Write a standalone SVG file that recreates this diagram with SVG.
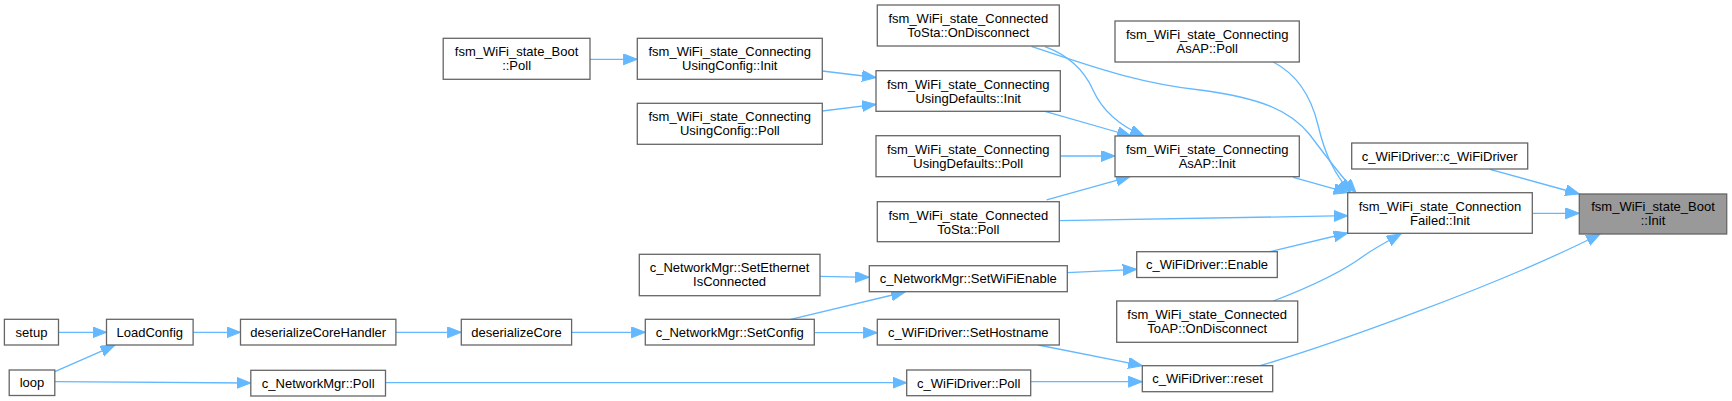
<svg xmlns="http://www.w3.org/2000/svg" width="1732" height="401" viewBox="0 0 1732 401">
<style>
.n rect{fill:#ffffff;stroke:#666666;stroke-width:1.3}
.n.hl rect{fill:#999999}
.n text{font-family:"Liberation Sans",Arial,Helvetica,sans-serif;font-size:13px;fill:#000000;text-anchor:middle}
.e path{fill:none;stroke:#63b8ff;stroke-width:1.3;marker-end:url(#ah)}
</style>
<defs>
<marker id="ah" markerUnits="userSpaceOnUse" markerWidth="15" markerHeight="12" refX="14" refY="5.5" orient="auto">
<path d="M0,0 L14,5.5 L0,11 z" fill="#63b8ff" stroke="#63b8ff" stroke-width="1"/>
</marker>
</defs>
<rect width="1732" height="401" fill="#ffffff"/>
<g id="connectors" class="e">
<path d="M58.5,332.3 L106.5,332.3"/>
<path d="M54.8,371.7 L114.7,345.3"/>
<path d="M193.1,332.3 L240.5,332.3"/>
<path d="M54.8,381.7 L250.8,383"/>
<path d="M395.9,332.3 L461.3,332.3"/>
<path d="M571.6,332.3 L645.3,332.3"/>
<path d="M385.5,382.7 L906.7,382.7"/>
<path d="M790.7,319.3 L905,292"/>
<path d="M814.3,332.7 L877.3,332.7"/>
<path d="M820,276.3 L869.3,277.3"/>
<path d="M590,59.3 L637.3,59.3"/>
<path d="M822.3,71 L876,77.5"/>
<path d="M822.3,111 L876,104.3"/>
<path d="M1060.3,156 L1115,156"/>
<path d="M1045,111.3 L1131,136"/>
<path d="M1045,46.7 C1070,56 1085,72 1093,90 C1102,110 1120,126 1144,136"/>
<path d="M1046.7,199.8 L1130,176.7"/>
<path d="M1031.7,46.7 C1080,62 1130,82 1200,90 C1260,98 1290,110 1310,135 C1325,155 1340,175 1356,192.7"/>
<path d="M1273.3,62 C1300,76 1312,100 1318,125 C1325,155 1335,175 1351,192.7"/>
<path d="M1293.3,177.3 L1347.7,192.7"/>
<path d="M1059.3,220.7 L1347.7,215.7"/>
<path d="M1067.3,272.7 L1136.7,269.3"/>
<path d="M1270,251.7 L1347.7,233"/>
<path d="M1273.3,301 C1310,287 1345,270 1365,255 C1378,246 1390,240 1401,234"/>
<path d="M1038.3,345 L1142.3,365.7"/>
<path d="M1030.7,381.7 L1142.3,381.7"/>
<path d="M1260,365.7 C1330,345 1500,285 1600,234"/>
<path d="M1490,169.3 L1579.3,194"/>
<path d="M1532.3,213.3 L1579.3,213.3"/>
</g>
<g id="n_boot_init" class="n hl"><rect x="1579.3" y="194" width="147.4" height="40"/><text x="1653" y="211">fsm_WiFi_state_Boot</text><text x="1653" y="225">::Init</text></g>
<g id="n_wifidriver_ctor" class="n"><rect x="1351.7" y="143" width="176" height="26"/><text x="1439.7" y="160.5">c_WiFiDriver::c_WiFiDriver</text></g>
<g id="n_connfailed_init" class="n"><rect x="1347.7" y="192.7" width="184.6" height="40.6"/><text x="1440" y="210.5">fsm_WiFi_state_Connection</text><text x="1440" y="224.5">Failed::Init</text></g>
<g id="n_asap_poll" class="n"><rect x="1115" y="21" width="184.3" height="41"/><text x="1207.2" y="39">fsm_WiFi_state_Connecting</text><text x="1207.2" y="53">AsAP::Poll</text></g>
<g id="n_sta_ondisc" class="n"><rect x="877.3" y="5" width="182" height="41"/><text x="968.3" y="23">fsm_WiFi_state_Connected</text><text x="968.3" y="37">ToSta::OnDisconnect</text></g>
<g id="n_def_init" class="n"><rect x="876" y="70.7" width="184.3" height="40.6"/><text x="968.2" y="88.5">fsm_WiFi_state_Connecting</text><text x="968.2" y="102.5">UsingDefaults::Init</text></g>
<g id="n_def_poll" class="n"><rect x="876" y="135.7" width="184.3" height="41"/><text x="968.2" y="153.7">fsm_WiFi_state_Connecting</text><text x="968.2" y="167.7">UsingDefaults::Poll</text></g>
<g id="n_asap_init" class="n"><rect x="1115" y="136" width="184.3" height="40.7"/><text x="1207.2" y="154">fsm_WiFi_state_Connecting</text><text x="1207.2" y="168">AsAP::Init</text></g>
<g id="n_sta_poll" class="n"><rect x="877.3" y="201.7" width="182" height="40"/><text x="968.3" y="219.5">fsm_WiFi_state_Connected</text><text x="968.3" y="233.5">ToSta::Poll</text></g>
<g id="n_cfg_init" class="n"><rect x="637.3" y="38.3" width="185" height="41"/><text x="729.8" y="56.3">fsm_WiFi_state_Connecting</text><text x="729.8" y="70.3">UsingConfig::Init</text></g>
<g id="n_cfg_poll" class="n"><rect x="637.3" y="103.3" width="185" height="41"/><text x="729.8" y="121.3">fsm_WiFi_state_Connecting</text><text x="729.8" y="135.3">UsingConfig::Poll</text></g>
<g id="n_boot_poll" class="n"><rect x="443.2" y="38.3" width="146.8" height="41"/><text x="516.6" y="56.3">fsm_WiFi_state_Boot</text><text x="516.6" y="70.3">::Poll</text></g>
<g id="n_eth" class="n"><rect x="639.3" y="254.3" width="180.7" height="41.4"/><text x="729.6" y="272.3">c_NetworkMgr::SetEthernet</text><text x="729.6" y="286.3">IsConnected</text></g>
<g id="n_setwifi" class="n"><rect x="869.3" y="265.7" width="198" height="26"/><text x="968.3" y="283.2">c_NetworkMgr::SetWiFiEnable</text></g>
<g id="n_enable" class="n"><rect x="1136.7" y="251.7" width="140.6" height="25.8"/><text x="1207" y="269.2">c_WiFiDriver::Enable</text></g>
<g id="n_ap_ondisc" class="n"><rect x="1116.7" y="301" width="181" height="41.3"/><text x="1207.2" y="319">fsm_WiFi_state_Connected</text><text x="1207.2" y="333">ToAP::OnDisconnect</text></g>
<g id="n_setconfig" class="n"><rect x="645.3" y="319.3" width="169" height="25.7"/><text x="729.8" y="336.8">c_NetworkMgr::SetConfig</text></g>
<g id="n_sethost" class="n"><rect x="877.3" y="319.3" width="182" height="25.7"/><text x="968.3" y="336.8">c_WiFiDriver::SetHostname</text></g>
<g id="n_reset" class="n"><rect x="1142.3" y="365.7" width="130.4" height="26"/><text x="1207.5" y="383.2">c_WiFiDriver::reset</text></g>
<g id="n_wd_poll" class="n"><rect x="906.7" y="370" width="124" height="25.7"/><text x="968.7" y="387.5">c_WiFiDriver::Poll</text></g>
<g id="n_nm_poll" class="n"><rect x="250.8" y="370.3" width="134.7" height="25.7"/><text x="318.2" y="387.8">c_NetworkMgr::Poll</text></g>
<g id="n_deser" class="n"><rect x="461.3" y="319.3" width="110.3" height="25.7"/><text x="516.5" y="336.8">deserializeCore</text></g>
<g id="n_deser_h" class="n"><rect x="240.5" y="319.3" width="155.4" height="25.7"/><text x="318.2" y="336.8">deserializeCoreHandler</text></g>
<g id="n_load" class="n"><rect x="106.5" y="319.3" width="86.6" height="25.7"/><text x="149.8" y="336.8">LoadConfig</text></g>
<g id="n_setup" class="n"><rect x="4.4" y="319.3" width="54.1" height="25.7"/><text x="31.5" y="336.8">setup</text></g>
<g id="n_loop" class="n"><rect x="9.2" y="370" width="45.6" height="25.5"/><text x="32" y="387.3">loop</text></g>
</svg>
